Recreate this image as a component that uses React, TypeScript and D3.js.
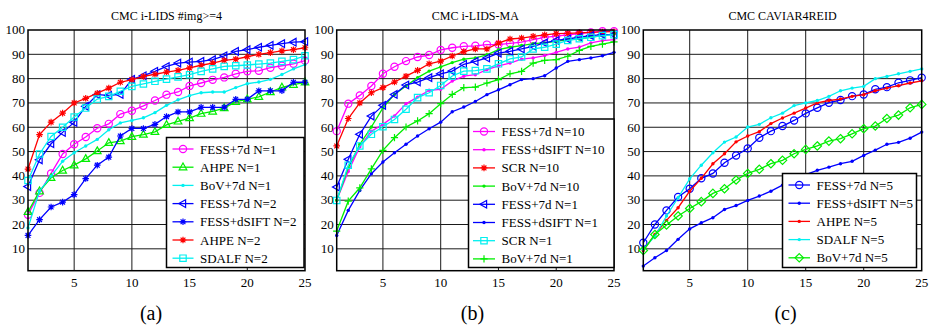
import React, { useEffect, useRef } from 'react';
import * as d3 from 'd3';

// rank axis, ticks
const ranks = d3.range(1, 26);
const xTicks = [5, 10, 15, 20, 25];
const yTicks = [10, 20, 30, 40, 50, 60, 70, 80, 90, 100];
const gridX = [5, 10, 15, 20];
const gridY = [10, 20, 30, 40, 50, 60, 70, 80, 90];

// (a) CMC i-LIDS #img>=4
const aFess7dN1 = [24, 33, 41, 49, 53, 56, 59.6, 61.4, 65.4, 66.8, 68.8, 71, 73.4, 74.5, 77, 78.2, 79.5, 80.5, 82, 83, 83.2, 84.5, 85.3, 86.1, 87.4];
const aAhpeN1 = [25.2, 33.7, 39.2, 42.2, 44.4, 47, 50.2, 53.6, 54.3, 56.1, 57, 58.1, 61, 62.4, 63.8, 65.6, 66.5, 67.9, 70.5, 71.5, 72.5, 74.5, 76.4, 77.5, 78.5];
const aBovN1 = [18.6, 33.8, 39.9, 46, 49.5, 52.3, 55, 59, 61.8, 62.8, 63.9, 66, 69, 71.3, 73, 74.2, 74.5, 74.5, 76.3, 77.9, 78.6, 79.7, 81.7, 84, 85.8];
const aFess7dN2 = [35.6, 46.6, 53.2, 57.9, 62, 68.6, 73.4, 73.1, 73.5, 79.7, 81.2, 83, 85, 86.4, 86.8, 87.1, 87.8, 89.4, 91.2, 91.9, 92.9, 93.7, 94.4, 95, 95.2];
const aDsiftN2 = [15.5, 22, 27.2, 29.2, 32.3, 38.9, 44.4, 47.7, 56.4, 59.5, 59.5, 61.2, 64.4, 66.3, 66.3, 68.2, 68.2, 68.2, 71.5, 71.5, 75, 75, 75, 78.5, 78.5];
const aAhpeN2 = [42.8, 57, 62.1, 65.8, 70, 71.9, 74, 76.1, 78.5, 79.6, 80.9, 81.8, 82.7, 83.4, 84.4, 85.5, 86.4, 87.5, 88, 89, 90, 90.7, 91.4, 91.9, 92.7];
const aSdalfN2 = [38.1, 49, 56.2, 60, 64.2, 67.9, 71.6, 72.7, 74.8, 76.8, 77.8, 78.9, 79.8, 80.7, 81.6, 83, 84, 85, 85.3, 85.6, 86, 86.4, 87.1, 87.8, 89.4];

// (b) CMC i-LIDS-MA
const bFess7dN10 = [58.4, 69.7, 73.1, 77, 82, 84.9, 87.2, 88.9, 89.7, 91.8, 92.7, 93.3, 93.5, 94, 94, 94.5, 95, 96, 97, 97.5, 98, 98.5, 99, 99.5, 99.5];
const bDsiftN10 = [30, 41.8, 52, 58.4, 61.2, 64.6, 69.7, 72.4, 75.2, 75.6, 79, 81, 81.6, 83.7, 85.2, 86.4, 88, 88.5, 89.5, 90.8, 92.2, 93, 94.7, 95.6, 96];
const bScrN10 = [52.3, 63.6, 70, 74.2, 76.3, 78.6, 81, 83.4, 86.1, 87.2, 89.3, 91.1, 92.2, 92.2, 94.6, 96.3, 96.7, 97.4, 98, 98.5, 98.6, 98.8, 99, 99.2, 99.3];
const bBovN10 = [30, 43.3, 53, 60.1, 68, 73.5, 77, 80.4, 83.1, 84.8, 86.6, 88, 88.5, 89.8, 91.9, 92.9, 93.6, 94.4, 94.7, 95.3, 96, 96.3, 97.1, 97.7, 98.4];
const bFess7dN1 = [35.4, 46.8, 57.1, 64.6, 69, 73.5, 77.4, 78.6, 80.4, 82, 83.1, 85.9, 87.1, 88.5, 90.5, 91.2, 92.2, 93.3, 94.7, 95.7, 96.3, 97.1, 97.7, 98.1, 98.1];
const bDsiftN1 = [15.5, 25.8, 34, 40.9, 45.7, 49.5, 53, 56.4, 59.4, 62.1, 66.4, 68.3, 70.6, 73.4, 75.4, 77.5, 79.6, 80, 81.2, 84.4, 87.1, 87.8, 88.5, 89.4, 90.8];
const bScrN1 = [29.9, 44.4, 52.3, 57.1, 60.2, 63.2, 67.4, 72.2, 74.2, 77.2, 81.1, 83.1, 83.3, 84, 86.1, 88.1, 88.9, 92.2, 92.9, 94.2, 95.7, 96.4, 97, 97.7, 98.1];
const bBovN1 = [17.3, 29.6, 35.1, 42.9, 50.5, 55.7, 60.1, 62.6, 65.6, 69.7, 73.5, 76.3, 76.5, 78.2, 79.6, 82, 83, 86.4, 87.5, 87.8, 89.2, 91.6, 93.3, 94.2, 95.1];

// (c) CMC CAVIAR4REID
const cFess7dN5 = [12.5, 20, 25.8, 31.3, 34.7, 39, 41, 45.4, 48.4, 51.3, 55.7, 58.4, 60.5, 62.8, 65.7, 68, 70.1, 71.2, 72.8, 73.5, 75.6, 76.5, 78.3, 79.3, 80.4];
const cDsiftN5 = [2.9, 6.3, 9.3, 13.9, 18.2, 20.7, 22.8, 26.2, 27.8, 29.9, 31.7, 33.7, 36.2, 38.5, 40.5, 42.3, 43.6, 45, 46, 48.4, 50.6, 53, 53.8, 55.5, 58];
const cAhpeN5 = [9.3, 15.9, 21.7, 26.9, 33.7, 39, 45, 49.1, 54, 56.4, 58.2, 61.5, 63.8, 65.8, 67.9, 70, 71, 71.6, 72.7, 73.4, 75, 76.1, 77.1, 78.2, 79.1];
const cSdalfN5 = [9.8, 15.2, 23.5, 31, 38.8, 44.4, 49.5, 53.9, 56, 60.1, 61.2, 63.9, 65.8, 68.9, 70, 71, 72.7, 75, 76.1, 76.8, 80, 80.9, 82, 83, 84];
const cBovN5 = [9.3, 15.9, 19.8, 23.5, 26.6, 29.4, 32.8, 34.7, 38.3, 41, 42.7, 45, 46.4, 49.1, 50.9, 52.3, 54.3, 55.3, 57.3, 59.4, 60.5, 63.6, 65, 68, 69.4];

type Marker = 'circle' | 'triUp' | 'triLeft' | 'square' | 'diamond' | 'dot' | 'star' | 'plus';
type Series = { name: string; color: string; marker: Marker; values: number[] };

const MAG = '#ff00ff';
const GRN = '#00ee00';
const CYN = '#00f0f0';
const BLU = '#0000ff';
const RED = '#ff0000';

const seriesA: Series[] = [
  { name: 'FESS+7d N=1', color: MAG, marker: 'circle', values: aFess7dN1 },
  { name: 'AHPE N=1', color: GRN, marker: 'triUp', values: aAhpeN1 },
  { name: 'BoV+7d N=1', color: CYN, marker: 'dot', values: aBovN1 },
  { name: 'FESS+7d N=2', color: BLU, marker: 'triLeft', values: aFess7dN2 },
  { name: 'FESS+dSIFT N=2', color: BLU, marker: 'star', values: aDsiftN2 },
  { name: 'AHPE N=2', color: RED, marker: 'star', values: aAhpeN2 },
  { name: 'SDALF N=2', color: CYN, marker: 'square', values: aSdalfN2 },
];
const seriesB: Series[] = [
  { name: 'FESS+7d N=10', color: MAG, marker: 'circle', values: bFess7dN10 },
  { name: 'FESS+dSIFT N=10', color: MAG, marker: 'dot', values: bDsiftN10 },
  { name: 'SCR N=10', color: RED, marker: 'star', values: bScrN10 },
  { name: 'BoV+7d N=10', color: GRN, marker: 'dot', values: bBovN10 },
  { name: 'FESS+7d N=1', color: BLU, marker: 'triLeft', values: bFess7dN1 },
  { name: 'FESS+dSIFT N=1', color: BLU, marker: 'dot', values: bDsiftN1 },
  { name: 'SCR N=1', color: CYN, marker: 'square', values: bScrN1 },
  { name: 'BoV+7d N=1', color: GRN, marker: 'plus', values: bBovN1 },
];
const seriesC: Series[] = [
  { name: 'FESS+7d N=5', color: BLU, marker: 'circle', values: cFess7dN5 },
  { name: 'FESS+dSIFT N=5', color: BLU, marker: 'dot', values: cDsiftN5 },
  { name: 'AHPE N=5', color: RED, marker: 'dot', values: cAhpeN5 },
  { name: 'SDALF N=5', color: CYN, marker: 'dot', values: cSdalfN5 },
  { name: 'BoV+7d N=5', color: GRN, marker: 'diamond', values: cBovN5 },
];

type Panel = {
  title: string;
  tag: string;
  tagX: number;
  left: number;
  right: number;
  series: Series[];
  legend: { x0: number; x1: number; y0: number; y1: number; row0: number; lx0: number; lx1: number; tx: number };
};

const panels: Panel[] = [
  {
    title: 'CMC i-LIDS #img>=4', tag: '(a)', tagX: 151, left: 28, right: 305, series: seriesA,
    legend: { x0: 166.5, x1: 304, y0: 137.5, y1: 267.5, row0: 149, lx0: 172.5, lx1: 193.5, tx: 200 },
  },
  {
    title: 'CMC i-LIDS-MA', tag: '(b)', tagX: 472.5, left: 336.7, right: 614, series: seriesB,
    legend: { x0: 468.5, x1: 614, y0: 119, y1: 267.5, row0: 131.5, lx0: 473, lx1: 495, tx: 501.5 },
  },
  {
    title: 'CMC CAVIAR4REID', tag: '(c)', tagX: 785.5, left: 643.3, right: 921.7, series: seriesC,
    legend: { x0: 782.5, x1: 916.5, y0: 173.5, y1: 267.5, row0: 185, lx0: 788.5, lx1: 810, tx: 816.5 },
  },
];

const FONT = "'Liberation Serif', 'Times New Roman', serif";
const TOP = 30;
const BOTTOM = 270.7;
const ROW = 18.2;

function drawMarker(g: d3.Selection<SVGGElement, unknown, null, undefined>, m: Marker, cx: number, cy: number, color: string) {
  const t = `translate(${cx},${cy})`;
  if (m === 'circle') {
    g.append('circle').attr('cx', cx).attr('cy', cy).attr('r', 3.6).attr('fill', 'none').attr('stroke', color).attr('stroke-width', 1.2);
  } else if (m === 'dot') {
    g.append('circle').attr('cx', cx).attr('cy', cy).attr('r', 1.7).attr('fill', color);
  } else {
    let d = '';
    let fill = 'none';
    if (m === 'triUp') d = 'M0,-4.2L3.8,2.6L-3.8,2.6Z';
    if (m === 'triLeft') d = 'M-4.2,0L2.6,-3.8L2.6,3.8Z';
    if (m === 'square') d = 'M-3.2,-3.2H3.2V3.2H-3.2Z';
    if (m === 'diamond') d = 'M0,-4.2L4.2,0L0,4.2L-4.2,0Z';
    if (m === 'star') d = 'M-3.3,0H3.3M0,-3.3V3.3M-2.4,-2.4L2.4,2.4M-2.4,2.4L2.4,-2.4';
    if (m === 'plus') d = 'M-3.6,0H3.6M0,-3.6V3.6';
    g.append('path').attr('d', d).attr('transform', t).attr('fill', fill).attr('stroke', color).attr('stroke-width', 1.2);
  }
}

export default function App() {
  const svgRef = useRef<SVGSVGElement>(null);

  useEffect(() => {
    if (!svgRef.current) return;
    document.body.style.margin = '0';
    const svg = d3.select(svgRef.current);
    svg.selectAll('*').remove();
    svg.append('rect').attr('width', 931).attr('height', 329).attr('fill', '#fff');

    panels.forEach((p) => {
      const x = d3.scaleLinear().domain([1, 25]).range([p.left, p.right]);
      const y = d3.scaleLinear().domain([1, 100]).range([BOTTOM, TOP]);
      const g = svg.append('g').attr('font-family', FONT).attr('fill', '#000');

      // grid
      g.selectAll('.gx').data(gridX).enter().append('line')
        .attr('x1', (d) => x(d)).attr('x2', (d) => x(d)).attr('y1', TOP).attr('y2', BOTTOM)
        .attr('stroke', '#1a1a1a').attr('stroke-width', 1);
      g.selectAll('.gy').data(gridY).enter().append('line')
        .attr('x1', p.left).attr('x2', p.right).attr('y1', (d) => y(d)).attr('y2', (d) => y(d))
        .attr('stroke', '#1a1a1a').attr('stroke-width', 1);

      // tick labels
      g.selectAll('.tx').data(xTicks).enter().append('text')
        .attr('x', (d) => x(d)).attr('y', 287).attr('text-anchor', 'middle')
        .attr('font-size', 13).text((d) => d);
      g.selectAll('.ty').data(yTicks).enter().append('text')
        .attr('x', p.left - 3).attr('y', (d) => y(d)).attr('dy', '0.33em').attr('text-anchor', 'end')
        .attr('font-size', 13).text((d) => d);

      g.append('text').attr('x', (p.left + p.right) / 2).attr('y', 20).attr('text-anchor', 'middle')
        .attr('font-size', 12).text(p.title);
      g.append('text').attr('x', p.tagX).attr('y', 320).attr('text-anchor', 'middle')
        .attr('font-size', 20).text(p.tag);

      // curves
      const line = d3.line<number>().x((_, i) => x(ranks[i])).y((d) => y(d));
      p.series.forEach((s) => {
        g.append('path').attr('d', line(s.values)).attr('fill', 'none')
          .attr('stroke', s.color).attr('stroke-width', 1.3);
        const mg = g.append('g');
        s.values.forEach((v, i) => drawMarker(mg, s.marker, x(ranks[i]), y(v), s.color));
      });

      // frame
      g.append('rect').attr('x', p.left).attr('y', TOP).attr('width', p.right - p.left).attr('height', BOTTOM - TOP)
        .attr('fill', 'none').attr('stroke', '#000').attr('stroke-width', 1.5);

      // legend
      const L = p.legend;
      g.append('rect').attr('x', L.x0).attr('y', L.y0).attr('width', L.x1 - L.x0).attr('height', L.y1 - L.y0)
        .attr('fill', '#fff').attr('stroke', '#000').attr('stroke-width', 1.5);
      p.series.forEach((s, i) => {
        const ry = L.row0 + i * ROW;
        g.append('line').attr('x1', L.lx0).attr('x2', L.lx1).attr('y1', ry).attr('y2', ry)
          .attr('stroke', s.color).attr('stroke-width', 1.3);
        drawMarker(g, s.marker, (L.lx0 + L.lx1) / 2, ry, s.color);
        g.append('text').attr('x', L.tx).attr('y', ry).attr('dy', '0.35em')
          .attr('font-size', 13).text(s.name);
      });
    });
  }, []);

  return <svg ref={svgRef} width={931} height={329} style={{ display: 'block' }} />;
}
